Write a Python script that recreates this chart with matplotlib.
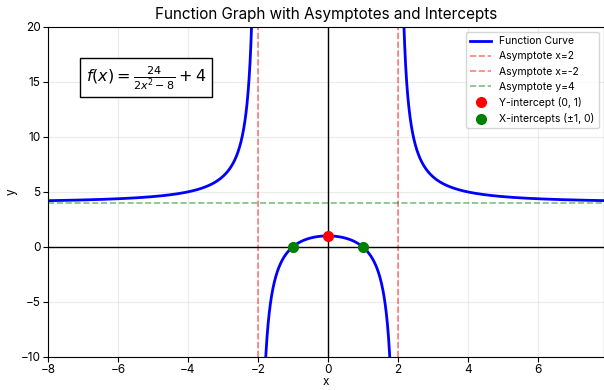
import matplotlib.pyplot as plt
import numpy as np

# f(x) = 24 / (2x^2 - 8) + 4
num = 24
a2 = 2
c0 = -8
shift = 4

asym_x = [2, -2]
asym_y = 4
y_int = (0, 1)
x_ints = [-1, 1]

plt.rcParams['font.family'] = ['Inter', 'DejaVu Sans']


def f(x):
    return num / (a2 * x ** 2 + c0) + shift


fig = plt.figure(figsize=(6.04, 3.90), dpi=100)
ax = fig.add_axes([0.0795, 0.085, 0.9205, 0.846])

# three pieces so the curve doesn't jump across the poles
eps = 0.01
pieces = [np.linspace(-8, -2 - eps, 800),
          np.linspace(-2 + eps, 2 - eps, 1600),
          np.linspace(2 + eps, 8, 800)]
for i, xs in enumerate(pieces):
    ax.plot(xs, f(xs), color='blue', lw=2, label='Function Curve' if i == 0 else None)

ax.axvline(asym_x[0], color='red', ls='--', alpha=0.5, lw=1.2, label='Asymptote x=2')
ax.axvline(asym_x[1], color='red', ls='--', alpha=0.5, lw=1.2, label='Asymptote x=-2')
ax.axhline(asym_y, color='green', ls='--', alpha=0.5, lw=1.2, label='Asymptote y=4')

ax.axhline(0, color='black', lw=1)
ax.axvline(0, color='black', lw=1)

ax.plot(y_int[0], y_int[1], 'o', color='red', ms=7, label='Y-intercept (0, 1)', zorder=5)
ax.plot(x_ints, [0, 0], 'o', color='green', ms=7, ls='none', label='X-intercepts (±1, 0)', zorder=5)

ax.text(0.068, 0.835, r'$f(x) = \frac{24}{2x^2 - 8} + 4$', transform=ax.transAxes,
        fontsize=11.5, bbox=dict(facecolor='white', edgecolor='black', pad=4))

ax.set_xlim(-8, 7.9)
ax.set_ylim(-10, 20)
ax.set_xticks([-8, -6, -4, -2, 0, 2, 4, 6])
ax.grid(True, alpha=0.25)
ax.set_title('Function Graph with Asymptotes and Intercepts', fontsize=11)
ax.set_xlabel('x', fontsize=8.5, labelpad=0)
ax.set_ylabel('y', fontsize=8.5, labelpad=2)
ax.tick_params(labelsize=8.5, pad=2)
ax.legend(loc='upper right', fontsize=7.5)

fig.savefig('out.png', dpi=100)
